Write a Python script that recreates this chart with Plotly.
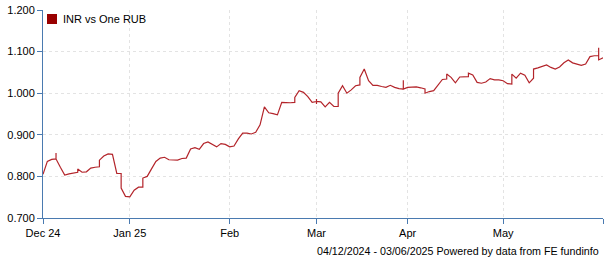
import pandas as pd
import plotly.graph_objects as go

# Trading days (weekdays) from 04/12/2024 to 03/06/2025
dates = [d.strftime("%Y-%m-%d") for d in pd.bdate_range("2024-12-04", "2025-06-03")]

# INR per one RUB, one entry per trading day; tuples hold several readings on the same day
rates = [
    0.805, 0.836, 0.841, (0.842, 0.856, 0.842), 0.822, 0.803, 0.806, 0.808, (0.810, 0.818), 0.810,
    0.811, 0.820, 0.822, (0.823, 0.839), 0.849, 0.854, 0.853, 0.807, (0.807, 0.772), 0.752,
    0.751, 0.767, 0.774, (0.774, 0.796), 0.800, 0.818, 0.836, 0.844, 0.846, 0.840,
    0.839, 0.839, 0.843, 0.844, 0.866, 0.869, 0.865, 0.879, 0.883, 0.876,
    0.871, 0.879, 0.877, 0.871, 0.873, 0.890, 0.904, 0.904, 0.902, 0.906,
    0.924, 0.967, 0.953, 0.951, 0.948, 0.978, 0.977, 0.977, (0.978, 0.990), 1.006,
    1.002, 0.992, 0.978, (0.980, 0.986, 0.974, 0.980), 0.979, 0.967, 0.978, 0.968, (0.968, 1.000), 1.018,
    1.000, 1.008, 1.018, (1.020, 1.038), 1.058, 1.030, 1.019, 1.019, 1.016, 1.014,
    1.019, 1.014, 1.011, (1.010, 1.031, 1.010), 1.014, 1.015, 1.015, 1.013, (1.010, 1.000), 1.004,
    1.006, 1.019, 1.033, (1.034, 1.046), 1.038, 1.025, 1.039, 1.040, (1.040, 1.048), 1.044,
    1.026, 1.024, 1.027, 1.035, 1.032, 1.032, 1.030, 1.023, (1.022, 1.046), 1.036,
    1.048, 1.043, 1.025, (1.036, 1.058), 1.061, 1.065, 1.068, 1.062, 1.058, 1.063,
    1.073, 1.080, 1.073, 1.070, 1.067, 1.070, 1.088, 1.090, (1.090, 1.109, 1.080), 1.085,
]

tick_dates = ["2024-12-04", "2025-01-01", "2025-02-03", "2025-03-03", "2025-04-01", "2025-05-01", "2025-06-03"]
tick_labels = ["Dec 24", "Jan 25", "Feb", "Mar", "Apr", "May", ""]
y_ticks = [0.7, 0.8, 0.9, 1.0, 1.1, 1.2]

series_name = "INR vs One RUB"
footer = "04/12/2024 - 03/06/2025 Powered by data from FE fundinfo"

xs, ys = [], []
for d, v in zip(dates, rates):
    vals = v if isinstance(v, tuple) else (v,)
    for val in vals:
        xs.append(d)
        ys.append(val)

FONT = "Liberation Sans, Arial, sans-serif"
AXIS = "#4a7ab0"
GRID = "#e3e3e3"

W, H = 605, 260
ML, MR, MT, MB = 43, 2, 10, 42
PW, PH = W - ML - MR, H - MT - MB


def px_x(px):
    return (px - ML) / PW


def px_y(py):
    return (H - MB - py) / PH


fig = go.Figure()
fig.add_trace(go.Scatter(
    x=xs, y=ys, mode="lines", name=series_name, showlegend=False,
    line=dict(color="#b3242a", width=1.2), hoverinfo="skip",
))

fig.update_layout(
    width=W, height=H,
    margin=dict(l=ML, r=MR, t=MT, b=MB),
    paper_bgcolor="white", plot_bgcolor="white",
    font=dict(family=FONT, size=11, color="black"),
    showlegend=False,
    shapes=[dict(
        type="rect", xref="paper", yref="paper",
        x0=px_x(47), x1=px_x(57), y0=px_y(24), y1=px_y(14),
        fillcolor="#990000", line=dict(width=0),
    )],
    annotations=[
        dict(text=series_name, xref="paper", yref="paper", x=px_x(61), y=px_y(19.5),
             xanchor="left", yanchor="middle", showarrow=False,
             font=dict(size=11, family=FONT, color="black")),
        dict(text=footer, xref="paper", yref="paper", x=1.0, y=0.0,
             xanchor="right", yanchor="top", yshift=-25, xshift=-2, showarrow=False,
             font=dict(size=10.7, family=FONT, color="black")),
    ],
)
fig.update_xaxes(
    type="category", categoryorder="array", categoryarray=dates,
    range=[0, len(dates) - 1],
    tickmode="array", tickvals=tick_dates, ticktext=tick_labels,
    ticks="outside", ticklen=5, tickcolor=AXIS, tickwidth=1,
    showline=True, linecolor=AXIS, linewidth=1,
    showgrid=True, gridcolor=GRID, griddash="dot", gridwidth=1,
    zeroline=False, tickangle=0,
)
fig.update_yaxes(
    range=[0.7, 1.2], tickmode="array", tickvals=y_ticks,
    tickformat=".3f",
    ticks="outside", ticklen=5, tickcolor=AXIS, tickwidth=1,
    showline=True, linecolor=AXIS, linewidth=1,
    showgrid=True, gridcolor=GRID, griddash="dot", gridwidth=1,
    zeroline=False,
)

fig.write_html("out.html")
